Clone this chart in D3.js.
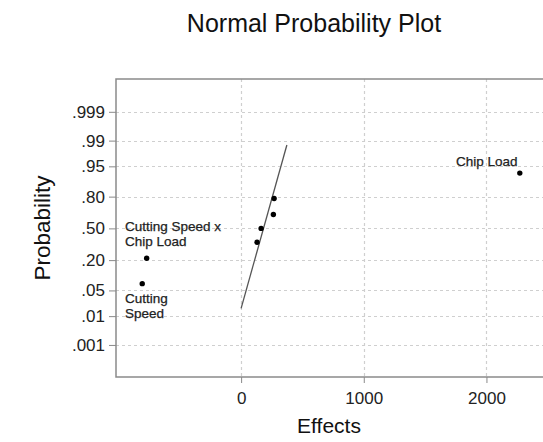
<!DOCTYPE html>
<html>
<head>
<meta charset="utf-8">
<script src="https://cdn.jsdelivr.net/npm/d3@7"></script>
<style>
  body { margin: 0; background: #fff; }
  svg { display: block; font-family: "Liberation Sans", Arial, sans-serif; }
</style>
</head>
<body>
<svg id="chart" width="543" height="442"></svg>
<script>
// ---- data ----
const effectNames = ["Cutting Speed", "Cutting Speed x Chip Load", "E3", "E4", "E5", "E6", "Chip Load"];
const effectValues = [-806, -770, 130, 163, 263, 269, 2272];
const effectProbs = [0.0714, 0.2143, 0.3571, 0.5, 0.6429, 0.7857, 0.9286];
const lineEffects = [0, 373];
const lineProbs = [0.017, 0.9865];
const probTicks = [0.001, 0.01, 0.05, 0.2, 0.5, 0.8, 0.95, 0.99, 0.999];
const probTickLabels = [".001", ".01", ".05", ".20", ".50", ".80", ".95", ".99", ".999"];
const effectTicks = [0, 1000, 2000];
const title = "Normal Probability Plot";
const xTitle = "Effects";
const yTitle = "Probability";

// ---- helpers ----
// inverse standard normal CDF (Acklam's algorithm)
function qnorm(p) {
  const a = [-3.969683028665376e+01, 2.209460984245205e+02, -2.759285104469687e+02, 1.383577518672690e+02, -3.066479806614716e+01, 2.506628277459239e+00];
  const b = [-5.447609879822406e+01, 1.615858368580409e+02, -1.556989798598866e+02, 6.680131188771972e+01, -1.328068155288572e+01];
  const c = [-7.784894002430293e-03, -3.223964580411365e-01, -2.400758277161838e+00, -2.549732539343734e+00, 4.374664141464968e+00, 2.938163982698783e+00];
  const d = [7.784695709041462e-03, 3.224671290700398e-01, 2.445134137142996e+00, 3.754408661907416e+00];
  const pl = 0.02425, ph = 1 - pl;
  let q, r;
  if (p < pl) {
    q = Math.sqrt(-2 * Math.log(p));
    return (((((c[0]*q+c[1])*q+c[2])*q+c[3])*q+c[4])*q+c[5]) / ((((d[0]*q+d[1])*q+d[2])*q+d[3])*q+1);
  } else if (p <= ph) {
    q = p - 0.5; r = q * q;
    return (((((a[0]*r+a[1])*r+a[2])*r+a[3])*r+a[4])*r+a[5])*q / (((((b[0]*r+b[1])*r+b[2])*r+b[3])*r+b[4])*r+1);
  } else {
    q = Math.sqrt(-2 * Math.log(1 - p));
    return -(((((c[0]*q+c[1])*q+c[2])*q+c[3])*q+c[4])*q+c[5]) / ((((d[0]*q+d[1])*q+d[2])*q+d[3])*q+1);
  }
}

const svg = d3.select("#chart");
const pLeft = 116, pTop = 79, pBottom = 377, pRight = 549;

const x = d3.scaleLinear().domain([-1020, 2510]).range([pLeft, pRight]);
const zScale = d3.scaleLinear().domain([-3.94, 3.96]).range([pBottom, pTop]);
const y = p => zScale(qnorm(p));

// grid
const grid = svg.append("g").attr("stroke", "#cfcfcf").attr("stroke-width", 1.2).attr("stroke-dasharray", "3,3");
grid.selectAll("line.h").data(probTicks).join("line")
  .attr("x1", pLeft).attr("x2", pRight)
  .attr("y1", d => Math.round(y(d)) + 0.5).attr("y2", d => Math.round(y(d)) + 0.5);
grid.selectAll("line.v").data(effectTicks).join("line")
  .attr("y1", pTop).attr("y2", pBottom)
  .attr("x1", d => Math.round(x(d)) + 0.5).attr("x2", d => Math.round(x(d)) + 0.5);

// frame
svg.append("rect").attr("x", pLeft).attr("y", pTop).attr("width", pRight - pLeft).attr("height", pBottom - pTop)
  .attr("fill", "none").attr("stroke", "#8a8a8a").attr("stroke-width", 1.5);

// axes
const yAxis = d3.axisLeft(zScale)
  .tickValues(probTicks.map(qnorm))
  .tickFormat((d, i) => probTickLabels[i])
  .tickSize(7).tickPadding(4);
const gy = svg.append("g").attr("transform", `translate(${pLeft},0)`).call(yAxis);
gy.select(".domain").remove();
gy.selectAll(".tick line").attr("stroke", "#8a8a8a");
gy.selectAll(".tick text").attr("font-size", 17).attr("fill", "#222").attr("font-family", "Liberation Sans, Arial, sans-serif");

const xAxis = d3.axisBottom(x).tickValues(effectTicks).tickFormat(d3.format("d")).tickSize(6).tickPadding(9);
const gx = svg.append("g").attr("transform", `translate(0,${pBottom})`).call(xAxis);
gx.select(".domain").remove();
gx.selectAll(".tick line").attr("stroke", "#8a8a8a");
gx.selectAll(".tick text").attr("font-size", 17).attr("fill", "#222").attr("font-family", "Liberation Sans, Arial, sans-serif");

// reference line
svg.append("line")
  .attr("x1", x(lineEffects[0])).attr("y1", y(lineProbs[0]))
  .attr("x2", x(lineEffects[1])).attr("y2", y(lineProbs[1]))
  .attr("stroke", "#555").attr("stroke-width", 1.3);

// points
svg.append("g").selectAll("circle").data(effectValues).join("circle")
  .attr("cx", d => x(d)).attr("cy", (d, i) => y(effectProbs[i]))
  .attr("r", 2.7).attr("fill", "#000");

// annotations
const ann = svg.append("g").attr("font-size", 13.5).attr("fill", "#222").attr("stroke", "#222").attr("stroke-width", 0.25);
ann.append("text").attr("x", 125).attr("y", 231).text("Cutting Speed x");
ann.append("text").attr("x", 125).attr("y", 246).text("Chip Load");
ann.append("text").attr("x", 125).attr("y", 303).text("Cutting");
ann.append("text").attr("x", 125).attr("y", 318).text("Speed");
ann.append("text").attr("x", 456).attr("y", 166).text("Chip Load");

// titles
svg.append("text").attr("x", 314).attr("y", 32).attr("text-anchor", "middle")
  .attr("font-size", 25).attr("fill", "#111").text(title);
svg.append("text").attr("x", 329).attr("y", 433).attr("text-anchor", "middle")
  .attr("font-size", 21).attr("fill", "#111").text(xTitle);
svg.append("text").attr("transform", "translate(50,228) rotate(-90)").attr("text-anchor", "middle")
  .attr("font-size", 22.5).attr("fill", "#111").text(yTitle);
</script>
</body>
</html>
